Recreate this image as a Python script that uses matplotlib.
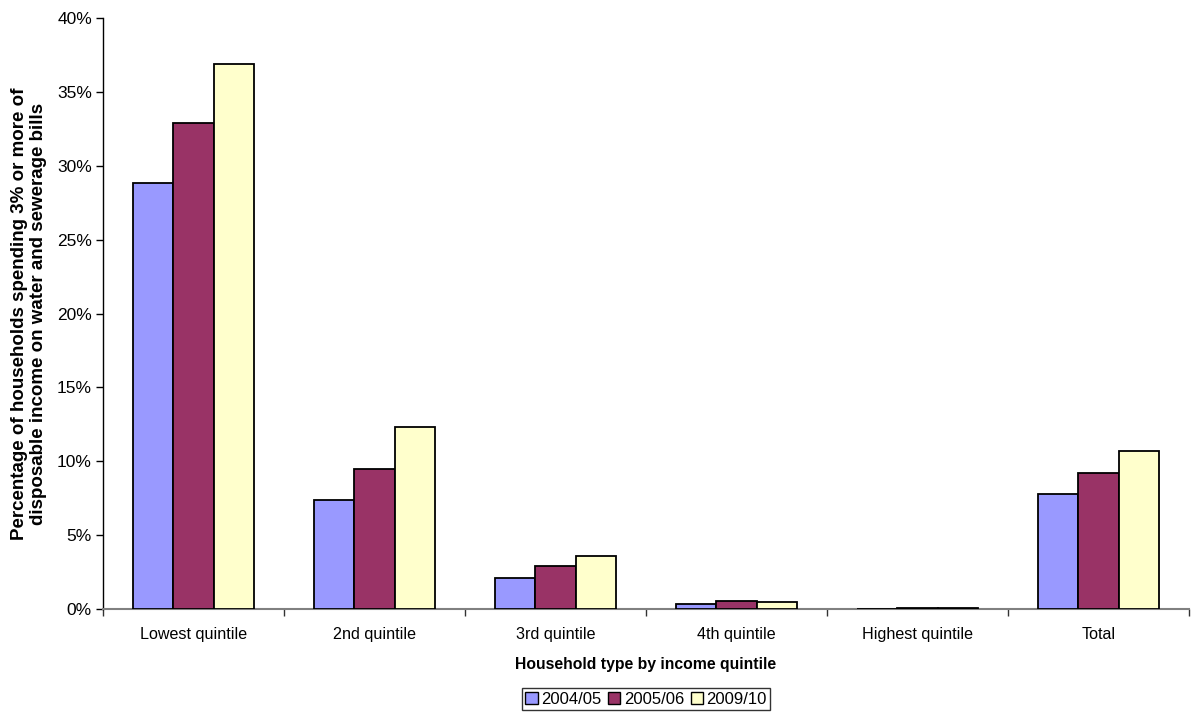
import matplotlib
matplotlib.use("Agg")
import matplotlib.pyplot as plt
import numpy as np
from matplotlib.ticker import FuncFormatter, FixedLocator

plt.rcParams['font.family'] = ['Liberation Sans', 'DejaVu Sans']

categories = ["Lowest quintile", "2nd quintile", "3rd quintile", "4th quintile",
              "Highest quintile", "Total"]
series_names = ["2004/05", "2005/06", "2009/10"]
v_2004_05 = [28.85, 7.4, 2.1, 0.35, 0.03, 7.76]
v_2005_06 = [32.9, 9.5, 2.9, 0.55, 0.07, 9.18]
v_2009_10 = [36.9, 12.3, 3.6, 0.45, 0.07, 10.67]
colors = ["#9999FF", "#993366", "#FFFFCC"]

fig = plt.figure(figsize=(11.92, 7.24), dpi=100)
ax = fig.add_axes([0.0864, 0.1588, 0.9111, 0.8163])

x = np.arange(len(categories))
width = 1.0 / 4.5
for i, (vals, name, c) in enumerate(zip([v_2004_05, v_2005_06, v_2009_10], series_names, colors)):
    ax.bar(x + (i - 1) * width, vals, width, color=c, edgecolor="black",
           linewidth=1.3, label=name, zorder=3)

ax.set_xlim(-0.5, len(categories) - 0.5)
ax.set_ylim(0, 40)
ax.set_yticks(np.arange(0, 41, 5))
ax.yaxis.set_major_formatter(FuncFormatter(lambda v, p: f"{int(v)}%"))
ax.set_xticks(x)
ax.set_xticklabels(categories)
ax.xaxis.set_minor_locator(FixedLocator(np.arange(-0.5, len(categories), 1.0)))
ax.tick_params(axis='x', which='major', length=0, pad=13, labelsize=11.6)
ax.tick_params(axis='x', which='minor', length=5, width=1, color="#333333", direction='out')
ax.tick_params(axis='y', length=5, width=1, labelsize=12.5, pad=3, direction='out')

for s in ["top", "right"]:
    ax.spines[s].set_visible(False)
ax.spines["left"].set_color("black")
ax.spines["bottom"].set_color("#808080")
ax.spines["left"].set_linewidth(1)
ax.spines["bottom"].set_linewidth(1.5)

ax.set_ylabel("Percentage of households spending 3% or more of\ndisposable income on water and sewerage bills",
              fontsize=13.5, fontweight="bold", labelpad=7, linespacing=1.2)
ax.set_xlabel("Household type by income quintile", fontsize=11.3, fontweight="bold", labelpad=11)

leg = fig.legend(loc="center", bbox_to_anchor=(0.542, 0.0345), ncol=3, fontsize=12,
                 frameon=True, fancybox=False, edgecolor="black", handlelength=0.75,
                 handleheight=0.75, handletextpad=0.2, columnspacing=0.4,
                 borderpad=0.2, borderaxespad=0)
leg.get_frame().set_linewidth(1)
for h in leg.legend_handles:
    h.set_linewidth(1)

fig.savefig("out.png", dpi=100)
